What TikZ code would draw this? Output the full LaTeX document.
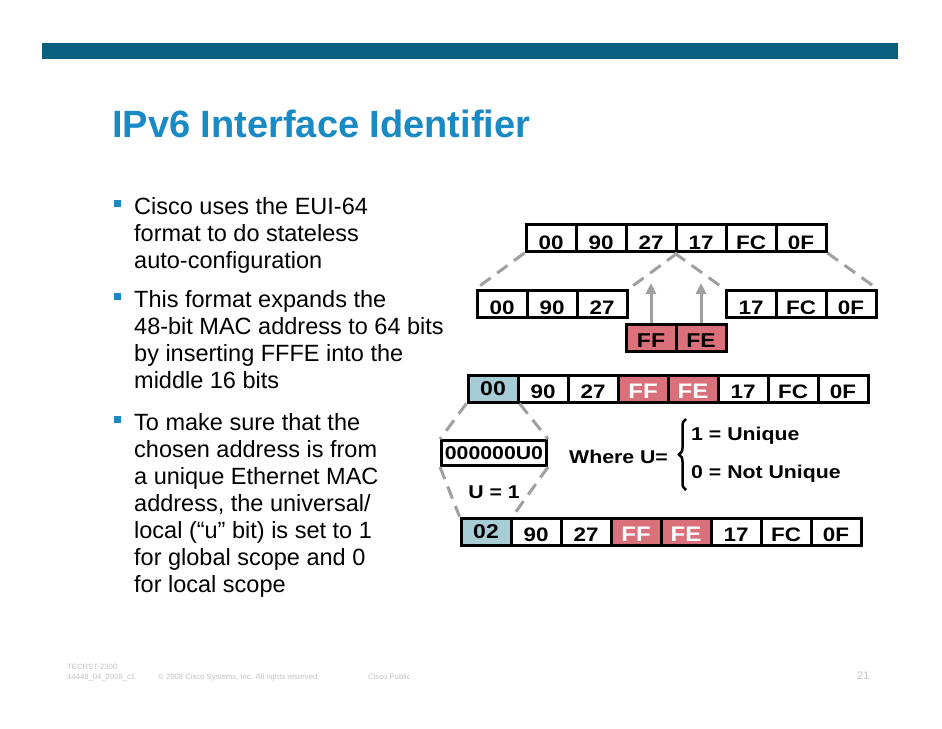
\documentclass[tikz,border=0pt]{standalone}
\usepackage{fontspec}
\setmainfont{Liberation Sans}
\newfontfamily\cellfont[FakeStretch=1.15]{Liberation Sans Bold}
\usetikzlibrary{arrows.meta,decorations.pathreplacing}

\definecolor{ciscobar}{RGB}{10,95,128}
\definecolor{ciscoblue}{RGB}{26,138,196}
\definecolor{ffpink}{RGB}{218,112,122}
\definecolor{ubitblue}{RGB}{168,204,214}
\definecolor{hopgray}{RGB}{160,160,160}
\definecolor{footgray}{RGB}{195,195,195}

\tikzset{
  cell/.style={draw, line width=3pt, minimum width=50pt, minimum height=27pt, inner sep=0pt,
    font=\cellfont\fontsize{19.5}{19.5}\selectfont, text height=20pt, text depth=0pt},
  plaincell/.style={},
  ffcell/.style={fill=ffpink, font=\cellfont\fontsize{20}{20}\selectfont, text height=18pt},
  hicell/.style={fill=ffpink, text=white, font=\cellfont\fontsize{21}{21}\selectfont, text height=19pt},
  ubitcell/.style={fill=ubitblue, font=\cellfont\fontsize{20}{20}\selectfont, text height=14pt},
  hop/.style={hopgray, line width=3pt, dash pattern=on 13pt off 8pt},
  push/.style={hopgray, line width=3pt, -{Triangle[length=11pt,width=10pt]}},
  bullettext/.style={anchor=north west, inner sep=0pt, align=left,
    font=\fontsize{23.5}{27}\selectfont},
  tag/.style={inner sep=0pt, font=\cellfont\fontsize{18.5}{18.5}\selectfont},
  foot/.style={anchor=base west, inner sep=0pt, text=footgray, font=\fontsize{7.7}{8}\selectfont}
}

\begin{document}
\begin{tikzpicture}[x=1pt, y=-1pt, line cap=butt, line join=miter]
  % el fondo y la barra de arriba
  \fill[white] (0,0) rectangle (942,728);
  \useasboundingbox (0,0) rectangle (942,728);
  \fill[ciscobar] (42,43) rectangle (898,59);
  \node[anchor=base west, inner sep=0pt, text=ciscoblue,
    font=\fontsize{38}{38}\selectfont\bfseries] (title) at (112,137) {IPv6 Interface Identifier};
  % los tres puntos del texto
  \foreach \y in {200,293,416} {
    \fill[ciscoblue] (114,\y) rectangle ++(7,7);
  }
  \node[bullettext] (b1) at (134,195.1) {\strut Cisco uses the EUI-64\\format to do stateless\\auto-configuration};
  \node[bullettext] (b2) at (134,288.1) {\strut This format expands the\\48-bit MAC address to 64 bits\\by inserting FFFE into the\\middle 16 bits};
  \node[bullettext] (b3) at (134,411.1) {\strut To make sure that the\\chosen address is from\\a unique Ethernet MAC\\address, the universal/\\local (“u” bit) is set to 1\\for global scope and 0\\for local scope};
  % la MAC de 48 bits
  \foreach \t [count=\i] in {00,90,27,17,FC,0F} {
    \node[cell, text height=22pt] (m\i) at (501+50*\i,238) {\t};
  }
  % la MAC partida en dos, con FFFE en medio
  \foreach \t [count=\i] in {00,90,27} {
    \node[cell] (l\i) at (452+50*\i,304) {\t};
  }
  \foreach \t [count=\i] in {17,FC,0F} {
    \node[cell] (r\i) at (701+50*\i,304) {\t};
  }
  \node[cell, ffcell] (ff) at (651,338) {FF};
  \node[cell, ffcell] (fe) at (701,338) {FE};
  \coordinate (ffhead) at (651,283);
  \coordinate (fehead) at (701,283);
  \draw[hop] (m1.south west) -- (l1.north west);
  \draw[hop] (m3.south east) -- (l3.north east);
  \draw[hop] (m4.south west) -- (r1.north west);
  \draw[hop] (m6.south east) -- (r3.north east);
  \draw[push] (ff.north) -- (ffhead);
  \draw[push] (fe.north) -- (fehead);
  % la EUI-64 antes y despues del bit U
  \foreach \t/\s [count=\i] in {00/ubitcell, 90/plaincell, 27/plaincell, FF/hicell, FE/hicell,
                                 17/plaincell, FC/plaincell, 0F/plaincell} {
    \node[cell, \s] (e\i) at (443+50*\i,388.5) {\t};
  }
  \foreach \t/\s [count=\i] in {02/ubitcell, 90/plaincell, 27/plaincell, FF/hicell, FE/hicell,
                                 17/plaincell, FC/plaincell, 0F/plaincell} {
    \node[cell, \s] (g\i) at (436+50*\i,531.5) {\t};
  }
  % el primer octeto y el bit U
  \node[tag, draw, line width=3pt, minimum width=105pt, minimum height=25pt] (uu) at (494,453) {000000U0};
  \node[tag] (u1) at (494,492) {U = 1};
  \draw[hop] (e1.south west) -- (uu.north west);
  \draw[hop] (e1.south east) -- (uu.north east);
  \draw[hop] (uu.south west) -- (g1.north west);
  \draw[hop] (uu.south east) -- (g1.north east);
  \node[tag, anchor=west] (where) at (569,457) {Where U=};
  \node[tag, anchor=west] (uniq) at (691,436) {1 = Unique};
  \node[tag, anchor=west] (nouniq) at (691,474) {0 = Not Unique};
  \draw[decorate, decoration={brace, amplitude=7pt}, line width=2.5pt] (686,490) -- (686,419);
  % el pie
  \node[foot] (course) at (67,669) {TECRST-2300};
  \node[foot] (code) at (67,679) {14448\_04\_2008\_c1};
  \node[foot] (copy) at (158,679) {\textcopyright{} 2008 Cisco Systems, Inc. All rights reserved.};
  \node[foot] (public) at (368,679) {Cisco Public};
  \node[anchor=base west, inner sep=0pt, text=footgray, font=\fontsize{11}{11}\selectfont] (page) at (857,679) {21};
\end{tikzpicture}
\end{document}
